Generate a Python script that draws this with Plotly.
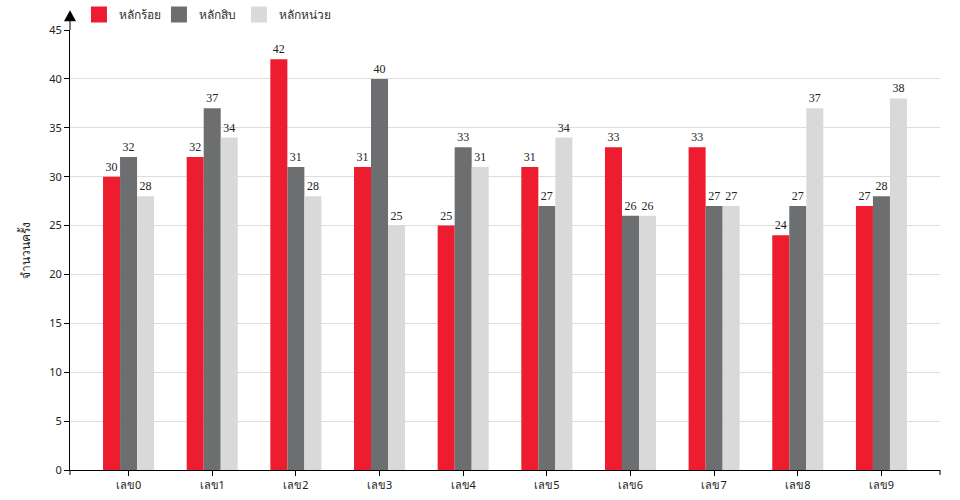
import plotly.graph_objects as go

categories = ["เลข0", "เลข1", "เลข2", "เลข3", "เลข4", "เลข5", "เลข6", "เลข7", "เลข8", "เลข9"]
series_names = ["หลักร้อย", "หลักสิบ", "หลักหน่วย"]
hundreds = [30, 32, 42, 31, 25, 31, 33, 33, 24, 27]
tens = [32, 37, 31, 40, 33, 27, 26, 27, 27, 28]
units = [28, 34, 28, 25, 31, 34, 26, 27, 37, 38]
colors = ["#ED1C2E", "#6D6E70", "#D9D9D9"]
y_ticks = [0, 5, 10, 15, 20, 25, 30, 35, 40, 45]

fig = go.Figure()
for name, vals, col in zip(series_names, [hundreds, tens, units], colors):
    fig.add_trace(go.Bar(
        x=categories, y=vals, name=name, marker=dict(color=col, line=dict(width=0)),
        text=[str(v) for v in vals], textposition="outside", cliponaxis=False,
        textfont=dict(family="Liberation Serif", size=12, color="#222222"),
        showlegend=False,
    ))
    # legend proxies with larger square swatches
    fig.add_trace(go.Scatter(
        x=[None], y=[None], mode="markers", name=name,
        marker=dict(symbol="square", size=19, color=col), showlegend=True,
    ))
# invisible trailing legend entry so the last label is not clipped
fig.add_trace(go.Scatter(x=[None], y=[None], mode="markers", name=" ",
                         marker=dict(symbol="square", size=19, color="rgba(0,0,0,0)"),
                         showlegend=True, hoverinfo="skip"))

fig.update_layout(
    width=960, height=500,
    margin=dict(l=70, r=20, t=30, b=30, autoexpand=False),
    paper_bgcolor="white", plot_bgcolor="white",
    barmode="group", bargap=0.39, bargroupgap=0,
    font=dict(family="Noto Sans, DejaVu Sans, sans-serif", size=11, color="#222222"),
    legend=dict(orientation="h", x=0.0103, y=1.0, xref="paper", yref="container",
                xanchor="left", yanchor="top", font=dict(size=12, color="#333333"),
                itemsizing="trace", itemwidth=30, tracegroupgap=0,
                entrywidth=35, entrywidthmode="pixels", itemclick=False, itemdoubleclick=False),
    xaxis=dict(type="category", range=[-0.7, 9.7], showline=True, linecolor="black",
               linewidth=1, ticks="outside", ticklen=5, tickcolor="black",
               showgrid=False, zeroline=False, tickfont=dict(size=11, color="#222222")),
    yaxis=dict(range=[0, 45], tickvals=y_ticks, showline=True, linecolor="black",
               linewidth=1, ticks="outside", ticklen=5, tickcolor="black",
               showgrid=True, gridcolor="#DDDDDD", zeroline=False,
               tickfont=dict(size=11, color="#222222"),
               title=dict(text="จำนวนครั้ง", font=dict(family="Liberation Serif", size=12, color="#222222"), standoff=16)),
)

# axis end ticks and arrow (decorations)
fig.add_shape(type="line", xref="paper", yref="paper", x0=0, x1=0, y0=0, y1=-5/440,
              line=dict(color="black", width=1))
fig.add_shape(type="line", xref="paper", yref="paper", x0=1, x1=1, y0=0, y1=-5/440,
              line=dict(color="black", width=1))
fig.add_shape(type="line", xref="paper", yref="paper", x0=0, x1=0, y0=1, y1=1 + 12/440,
              line=dict(color="black", width=1))
fig.add_shape(type="path", xref="paper", yref="paper",
              path="M -0.0069 1.02 L 0.0069 1.02 L 0 1.045 Z",
              fillcolor="black", line=dict(color="black", width=0))

fig.write_html("out.html")
